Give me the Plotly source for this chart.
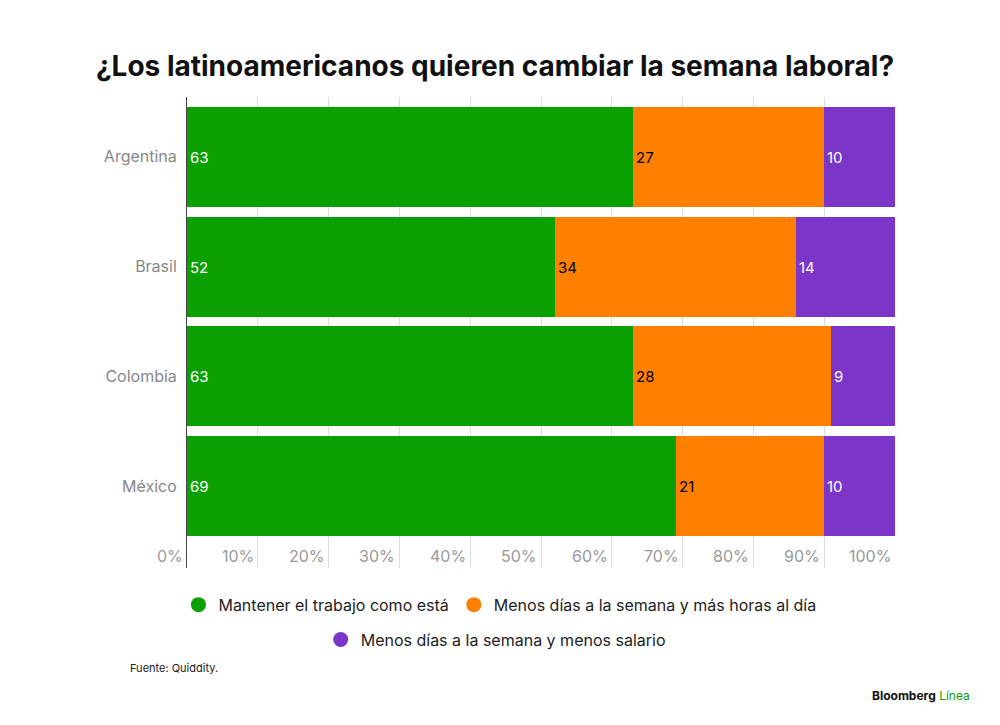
import plotly.graph_objects as go

countries = ["Argentina", "Brasil", "Colombia", "México"]
series_names = ["Mantener el trabajo como está",
                "Menos días a la semana y más horas al día",
                "Menos días a la semana y menos salario"]
mantener = [63, 52, 63, 69]
mas_horas = [27, 34, 28, 21]
menos_salario = [10, 14, 9, 10]
tick_vals = [0, 10, 20, 30, 40, 50, 60, 70, 80, 90, 100]
tick_text = [f"{v}%" for v in tick_vals]

COLORS = ["#0aa000", "#ff7f00", "#7b35c9"]
TEXT_COLORS = ["white", "black", "white"]
LEGENDS = ["legend", "legend", "legend2"]
FONT = "Inter, Roboto, sans-serif"

fig = go.Figure()
for name, vals, col, tcol, lg in zip(series_names, [mantener, mas_horas, menos_salario],
                                     COLORS, TEXT_COLORS, LEGENDS):
    fig.add_trace(go.Bar(
        y=countries, x=vals, orientation="h", name=name,
        marker=dict(color=col, line=dict(width=0)),
        width=0.91,
        text=[str(v) for v in vals], textposition="inside",
        insidetextanchor="start", textangle=0,
        textfont=dict(color=tcol, size=15, family=FONT),
        showlegend=False,
    ))
    # circle markers for the legend
    fig.add_trace(go.Scatter(
        x=[None], y=[None], mode="markers", name=name, legend=lg,
        marker=dict(color=col, size=15, symbol="circle"),
    ))

# tick labels sit just left of each gridline, inside the plot bottom
for v, t in zip(tick_vals, tick_text):
    fig.add_annotation(x=v, y=0, xref="x", yref="paper", yshift=0,
                       text=t, showarrow=False, xanchor="right", yanchor="bottom",
                       xshift=-2,
                       font=dict(size=16, color="#999999", family=FONT))

fig.add_annotation(text="Fuente: Quiddity.", x=-0.083, y=-0.212, xref="paper", yref="paper",
                   xanchor="left", yanchor="middle", showarrow=False,
                   font=dict(size=11, color="#222222", family=FONT))
fig.add_annotation(text="<b>Bloomberg</b> <span style='color:#0aa000'>Línea</span>",
                   x=1.109, y=-0.270, xref="paper", yref="paper", xanchor="right",
                   yanchor="middle", showarrow=False,
                   font=dict(size=12, color="#111111", family=FONT))

legend_style = dict(orientation="h", xanchor="center", yanchor="middle",
                    traceorder="normal", bgcolor="rgba(0,0,0,0)",
                    font=dict(size=16, color="#222222", family=FONT))

fig.update_layout(
    width=1000, height=725,
    paper_bgcolor="white", plot_bgcolor="white",
    barmode="stack", bargap=0,
    margin=dict(l=179, r=113, t=89, b=165),
    font=dict(family=FONT, color="#888888", size=16),
    title=dict(text="<b>¿Los latinoamericanos quieren cambiar la semana laboral?</b>",
               x=0.487, xanchor="center", y=0.92, yanchor="middle",
               font=dict(size=28, color="#111111", family=FONT)),
    xaxis=dict(range=[0, 100], tickvals=tick_vals, showticklabels=False,
               showgrid=True, gridcolor="#dddddd", gridwidth=1, zeroline=False,
               showline=False, fixedrange=True),
    yaxis=dict(range=[3.745, -0.545], type="category", showgrid=False,
               ticks="", ticklabelstandoff=6, showline=True, linecolor="#444444",
               linewidth=1, tickfont=dict(size=16, color="#888888"),
               fixedrange=True),
    legend=dict(x=0.442, y=-0.078, **legend_style),
    legend2=dict(x=0.436, y=-0.152, **legend_style),
)

fig.write_html("out.html")
